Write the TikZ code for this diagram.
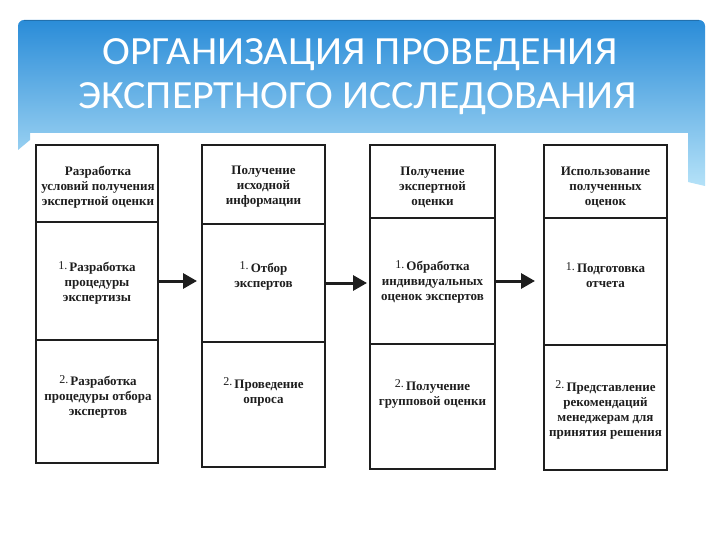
\documentclass[tikz,border=0pt]{standalone}
\usepackage{fontspec}
\setmainfont{Liberation Serif}
\newfontfamily\titlefont[FakeStretch=1.05]{Carlito}
\usetikzlibrary{arrows.meta}
\definecolor{bandtop}{HTML}{2A8CD8}
\definecolor{bandbot}{HTML}{B5E2F8}
\definecolor{ink}{HTML}{1E1E1E}
\tikzset{
  cell/.style={draw=ink, line width=1.3pt, rectangle, inner sep=0pt, outer sep=0pt},
  celltext/.style={align=center, inner sep=0pt, text=ink, font=\bfseries\fontsize{13}{15}\selectfont},
  titletext/.style={text=white, inner sep=0pt, anchor=base, font=\titlefont\fontsize{40}{42}\selectfont},
  arr/.style={draw=ink, line width=3pt, -{Triangle[length=14pt,width=15pt]}}
}
\newcommand{\numlabel}[1]{\raisebox{2.5pt}{\mdseries\fontsize{12}{12}\selectfont #1}\,}
\begin{document}
\begin{tikzpicture}[x=1pt,y=-1pt]
\useasboundingbox (0,0) rectangle (720,540);
\fill[white] (0,0) rectangle (720,540);
% blue title band
\shade[top color=bandtop, bottom color=bandbot]
  (18,150) [rounded corners=6pt] -- (18,20) -- (705,20) [sharp corners] -- (705,186)
  -- (688,182) -- (688,133) -- (30,133) -- (30,140) -- cycle;
\draw[bandtop!80!black, line width=1pt] (24,20.5) -- (699,20.5);
\node[titletext] (t1) at (360,65) {ОРГАНИЗАЦИЯ ПРОВЕДЕНИЯ};
\node[titletext] (t2) at (358,109) {ЭКСПЕРТНОГО ИССЛЕДОВАНИЯ};
% column 1
\node[cell, minimum width=122pt, minimum height=77pt] (h1) at (97,183.5) {};
\node[cell, minimum width=122pt, minimum height=118pt] (m1) at (97,281) {};
\node[cell, minimum width=122pt, minimum height=123pt] (b1) at (97,401.5) {};
% column 2
\node[cell, minimum width=123pt, minimum height=79pt] (h2) at (263.5,184.5) {};
\node[cell, minimum width=123pt, minimum height=118pt] (m2) at (263.5,283) {};
\node[cell, minimum width=123pt, minimum height=125pt] (b2) at (263.5,404.5) {};
% column 3
\node[cell, minimum width=125pt, minimum height=73pt] (h3) at (432.5,181.5) {};
\node[cell, minimum width=125pt, minimum height=126pt] (m3) at (432.5,281) {};
\node[cell, minimum width=125pt, minimum height=125pt] (b3) at (432.5,406.5) {};
% column 4
\node[cell, minimum width=123pt, minimum height=73pt] (h4) at (605.5,181.5) {};
\node[cell, minimum width=123pt, minimum height=127pt] (m4) at (605.5,281.5) {};
\node[cell, minimum width=123pt, minimum height=125pt] (b4) at (605.5,407.5) {};
% texts
\node[celltext] (th1) at (98,187) {Разработка\\условий получения\\экспертной оценки};
\node[celltext] (tm1) at (97,283) {\numlabel{1.}Разработка\\процедуры\\экспертизы};
\node[celltext] (tb1) at (98,397) {\numlabel{2.}Разработка\\процедуры отбора\\экспертов};
\node[celltext] (th2) at (263.5,187) {Получение\\исходной\\информации};
\node[celltext] (tm2) at (263.5,276) {\numlabel{1.}Отбор\\экспертов};
\node[celltext] (tb2) at (263.5,392) {\numlabel{2.}Проведение\\опроса};
\node[celltext] (th3) at (432.5,187) {Получение\\экспертной\\оценки};
\node[celltext] (tm3) at (432.5,282) {\numlabel{1.}Обработка\\индивидуальных\\оценок экспертов};
\node[celltext] (tb3) at (432.5,394) {\numlabel{2.}Получение\\групповой оценки};
\node[celltext] (th4) at (605.5,187) {Использование\\полученных\\оценок};
\node[celltext] (tm4) at (605.5,275) {\numlabel{1.}Подготовка\\отчета};
\node[celltext] (tb4) at (605.5,410) {\numlabel{2.}Представление\\рекомендаций\\менеджерам для\\принятия решения};
% arrows
\draw[arr, shorten >=5pt] (m1.east) -- (m2.west |- m1.east);
\draw[arr, shorten >=3pt] (m2.east) -- (m3.west |- m2.east);
\draw[arr, shorten >=9pt] (m3.east) -- (m4.west |- m3.east);
\end{tikzpicture}
\end{document}
